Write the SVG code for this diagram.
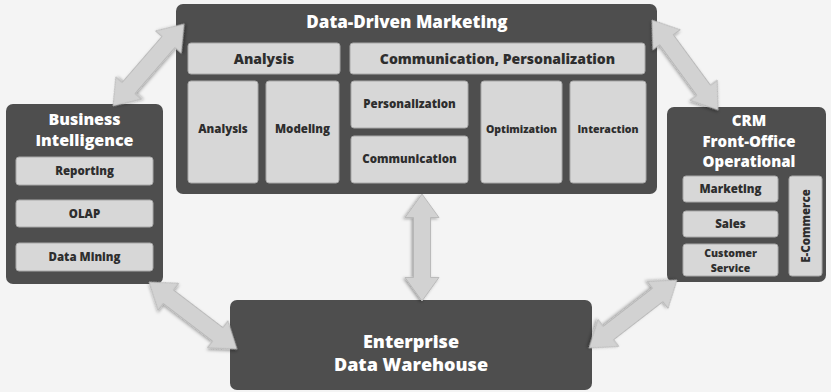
<svg xmlns="http://www.w3.org/2000/svg" width="831" height="392" viewBox="0 0 831 392">
<defs>
<filter id="sh" x="-20%" y="-20%" width="140%" height="140%"><feDropShadow dx="1" dy="1.5" stdDeviation="1.5" flood-color="#000" flood-opacity="0.35"/></filter>
<polygon id="dbl" points="0,0 22,-17 22,-8.5 78,-8.5 78,-17 100,0 78,17 78,8.5 22,8.5 22,17"/>
</defs>
<style>
.dark{fill:#4e4e4e;}
.inner{fill:#d7d7d7;stroke:#a8a8a8;stroke-width:1;}
.t{font-family:"Open Sans","Liberation Sans",sans-serif;font-weight:800;text-anchor:middle;}
.w{fill:#ffffff;}
.k{fill:#2e2e2e;}
.arr{fill:#d2d2d2;stroke:#b4b4b4;stroke-width:0.8;filter:url(#sh);}
</style>
<rect width="831" height="392" fill="#f4f4f4"/>

<g id="ddm">
<rect class="dark" x="176" y="4" width="481" height="190" rx="7"/>
<text class="t w" x="407" y="28" font-size="17">Data-Driven Marketing</text>
<rect class="inner" x="188" y="43" width="152" height="31" rx="3"/>
<text class="t k" x="264" y="64" font-size="14">Analysis</text>
<rect class="inner" x="350" y="43" width="295" height="31" rx="3"/>
<text class="t k" x="497.5" y="64" font-size="14">Communication, Personalization</text>
<rect class="inner" x="188" y="81" width="70" height="102" rx="3"/>
<text class="t k" x="223" y="133" font-size="11.5">Analysis</text>
<rect class="inner" x="266" y="81" width="73" height="102" rx="3"/>
<text class="t k" x="302.5" y="133" font-size="11.5">Modeling</text>
<rect class="inner" x="351" y="81" width="117" height="47" rx="3"/>
<text class="t k" x="409.5" y="108" font-size="11.5">Personalization</text>
<rect class="inner" x="351" y="136" width="117" height="47" rx="3"/>
<text class="t k" x="409.5" y="163" font-size="11.5">Communication</text>
<rect class="inner" x="481" y="81" width="81" height="102" rx="3"/>
<text class="t k" x="521.5" y="133" font-size="10.5">Optimization</text>
<rect class="inner" x="570" y="81" width="76" height="102" rx="3"/>
<text class="t k" x="608" y="133" font-size="10.5">Interaction</text>
</g>

<g id="bi">
<rect class="dark" x="6" y="104" width="157" height="180" rx="7"/>
<text class="t w" x="84.5" y="125" font-size="16">Business</text>
<text class="t w" x="84.5" y="146" font-size="16">Intelligence</text>
<rect class="inner" x="16" y="157" width="137" height="28" rx="3"/>
<text class="t k" x="84.5" y="175" font-size="11.5">Reporting</text>
<rect class="inner" x="16" y="200" width="137" height="27" rx="3"/>
<text class="t k" x="84.5" y="218" font-size="11.5">OLAP</text>
<rect class="inner" x="16" y="243" width="137" height="28" rx="3"/>
<text class="t k" x="84.5" y="261" font-size="11.5">Data Mining</text>
</g>

<g id="crm">
<rect class="dark" x="667" y="107" width="159" height="175" rx="7"/>
<text class="t w" x="749" y="126" font-size="15">CRM</text>
<text class="t w" x="749" y="146.5" font-size="15">Front-Office</text>
<text class="t w" x="749" y="167" font-size="15">Operational</text>
<rect class="inner" x="683" y="176" width="95" height="26" rx="3"/>
<text class="t k" x="730.5" y="193" font-size="11.5">Marketing</text>
<rect class="inner" x="683" y="211" width="95" height="26" rx="3"/>
<text class="t k" x="730.5" y="228" font-size="11.5">Sales</text>
<rect class="inner" x="683" y="244" width="95" height="32" rx="3"/>
<text class="t k" x="730.5" y="257" font-size="10.5">Customer</text>
<text class="t k" x="730.5" y="271.5" font-size="10.5">Service</text>
<rect class="inner" x="789" y="176" width="33" height="100" rx="3"/>
<text class="t k" x="0" y="0" font-size="11.5" transform="translate(809.5,226) rotate(-90)">E-Commerce</text>
</g>

<g id="edw">
<rect class="dark" x="230" y="300" width="362" height="90" rx="7"/>
<text class="t w" x="411" y="348" font-size="18">Enterprise</text>
<text class="t w" x="411" y="371" font-size="18">Data Warehouse</text>
</g>

<g id="connectors">
<use href="#dbl" class="arr" transform="translate(113,106) rotate(-49.1) scale(1.085,1)"/>
<use href="#dbl" class="arr" transform="translate(652,20) rotate(53.7) scale(1.116,1)"/>
<use href="#dbl" class="arr" transform="translate(422,194) rotate(90) scale(1.07,1)"/>
<use href="#dbl" class="arr" transform="translate(149,282) rotate(37.3) scale(1.106,1)"/>
<use href="#dbl" class="arr" transform="translate(677,280) rotate(142.3) scale(1.112,1)"/>
</g>
</svg>
